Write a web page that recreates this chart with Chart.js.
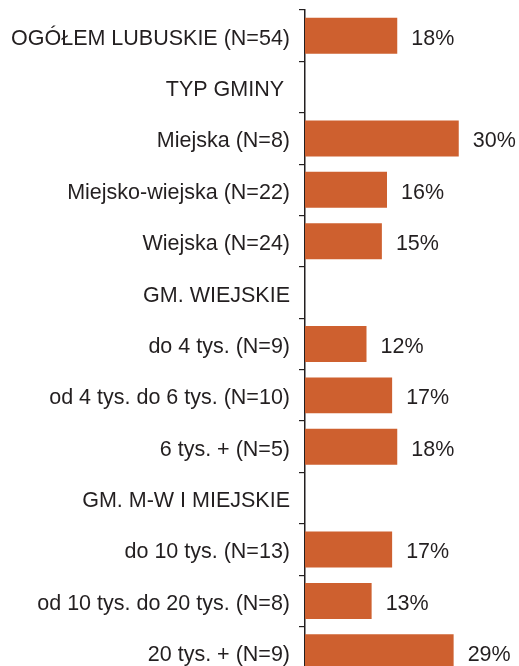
<!DOCTYPE html>
<html>
<head>
<meta charset="utf-8">
<script src="https://cdn.jsdelivr.net/npm/chart.js@4/dist/chart.umd.min.js"></script>
<style>
  html, body { margin: 0; padding: 0; background: #fff; overflow: hidden; }
  #wrap { width: 519px; height: 680px; position: relative; }
</style>
</head>
<body>
<div id="wrap"><canvas id="myChart"></canvas></div>
<script>
// rows of the chart, section headings have no bar
var categories = ['OGÓŁEM LUBUSKIE (N=54)', 'TYP GMINY ', 'Miejska (N=8)', 'Miejsko-wiejska (N=22)', 'Wiejska (N=24)',
    'GM. WIEJSKIE', 'do 4 tys. (N=9)', 'od 4 tys. do 6 tys. (N=10)', '6 tys. + (N=5)',
    'GM. M-W I MIEJSKIE', 'do 10 tys. (N=13)', 'od 10 tys. do 20 tys. (N=8)', '20 tys. + (N=9)'];
// percentage for each row
var values = [18, null, 30, 16, 15, null, 12, 17, 18, null, 17, 13, 29];

var textColor = '#231f20';
var barColor = '#ce602f';
var font = '21.5px "Liberation Sans", Arial, sans-serif';

//writes the row names and the percentage next to each bar
//(text sits a little below the bar centre)
var rowText = {
    id: 'rowText',
    afterDatasetsDraw: function (chart) {
        var c = chart.ctx;
        var meta = chart.getDatasetMeta(0);
        var yScale = chart.scales.y;
        c.save();
        c.font = font;
        c.fillStyle = textColor;
        c.textBaseline = 'middle';
        c.textAlign = 'right';
        categories.forEach(function (name, i) {
            c.fillText(name, yScale.right - 15, yScale.getPixelForTick(i) + 3);
        });
        c.textAlign = 'left';
        meta.data.forEach(function (bar, i) {
            if (values[i] === null) return;
            c.fillText(values[i] + '%', bar.x + 14, bar.y + 3);
        });
        c.restore();
    }
};

var ctx = document.getElementById('myChart').getContext('2d');
var myChart = new Chart(ctx, {
    type: 'bar',
    data: {
        labels: categories,
        datasets: [{
            data: values,
            backgroundColor: barColor,
            barPercentage: 0.7,
            categoryPercentage: 1.0
        }]
    },
    options: {
        indexAxis: 'y',
        responsive: true,
        maintainAspectRatio: false,
        animation: false,
        layout: { padding: { top: 10, right: 9, bottom: 2, left: 0 } },
        plugins: {
            legend: { display: false },
            tooltip: { enabled: false }
        },
        scales: {
            x: {
                display: false,
                min: 0,
                max: 40
            },
            y: {
                afterFit: function (scale) {
                    scale.width = 305;
                    scale.paddingTop = 0;
                    scale.paddingBottom = 0;
                },
                border: { display: true, color: textColor, width: 1.5 },
                grid: {
                    offset: true,
                    drawOnChartArea: false,
                    drawTicks: true,
                    tickLength: 6,
                    color: textColor,
                    lineWidth: 1.2
                },
                ticks: {
                    // labels are painted by rowText
                    color: 'rgba(0,0,0,0)',
                    padding: 9,
                    autoSkip: false,
                    font: { family: '"Liberation Sans", Arial, sans-serif', size: 21.5 }
                }
            }
        }
    },
    plugins: [rowText]
});
</script>
</body>
</html>
